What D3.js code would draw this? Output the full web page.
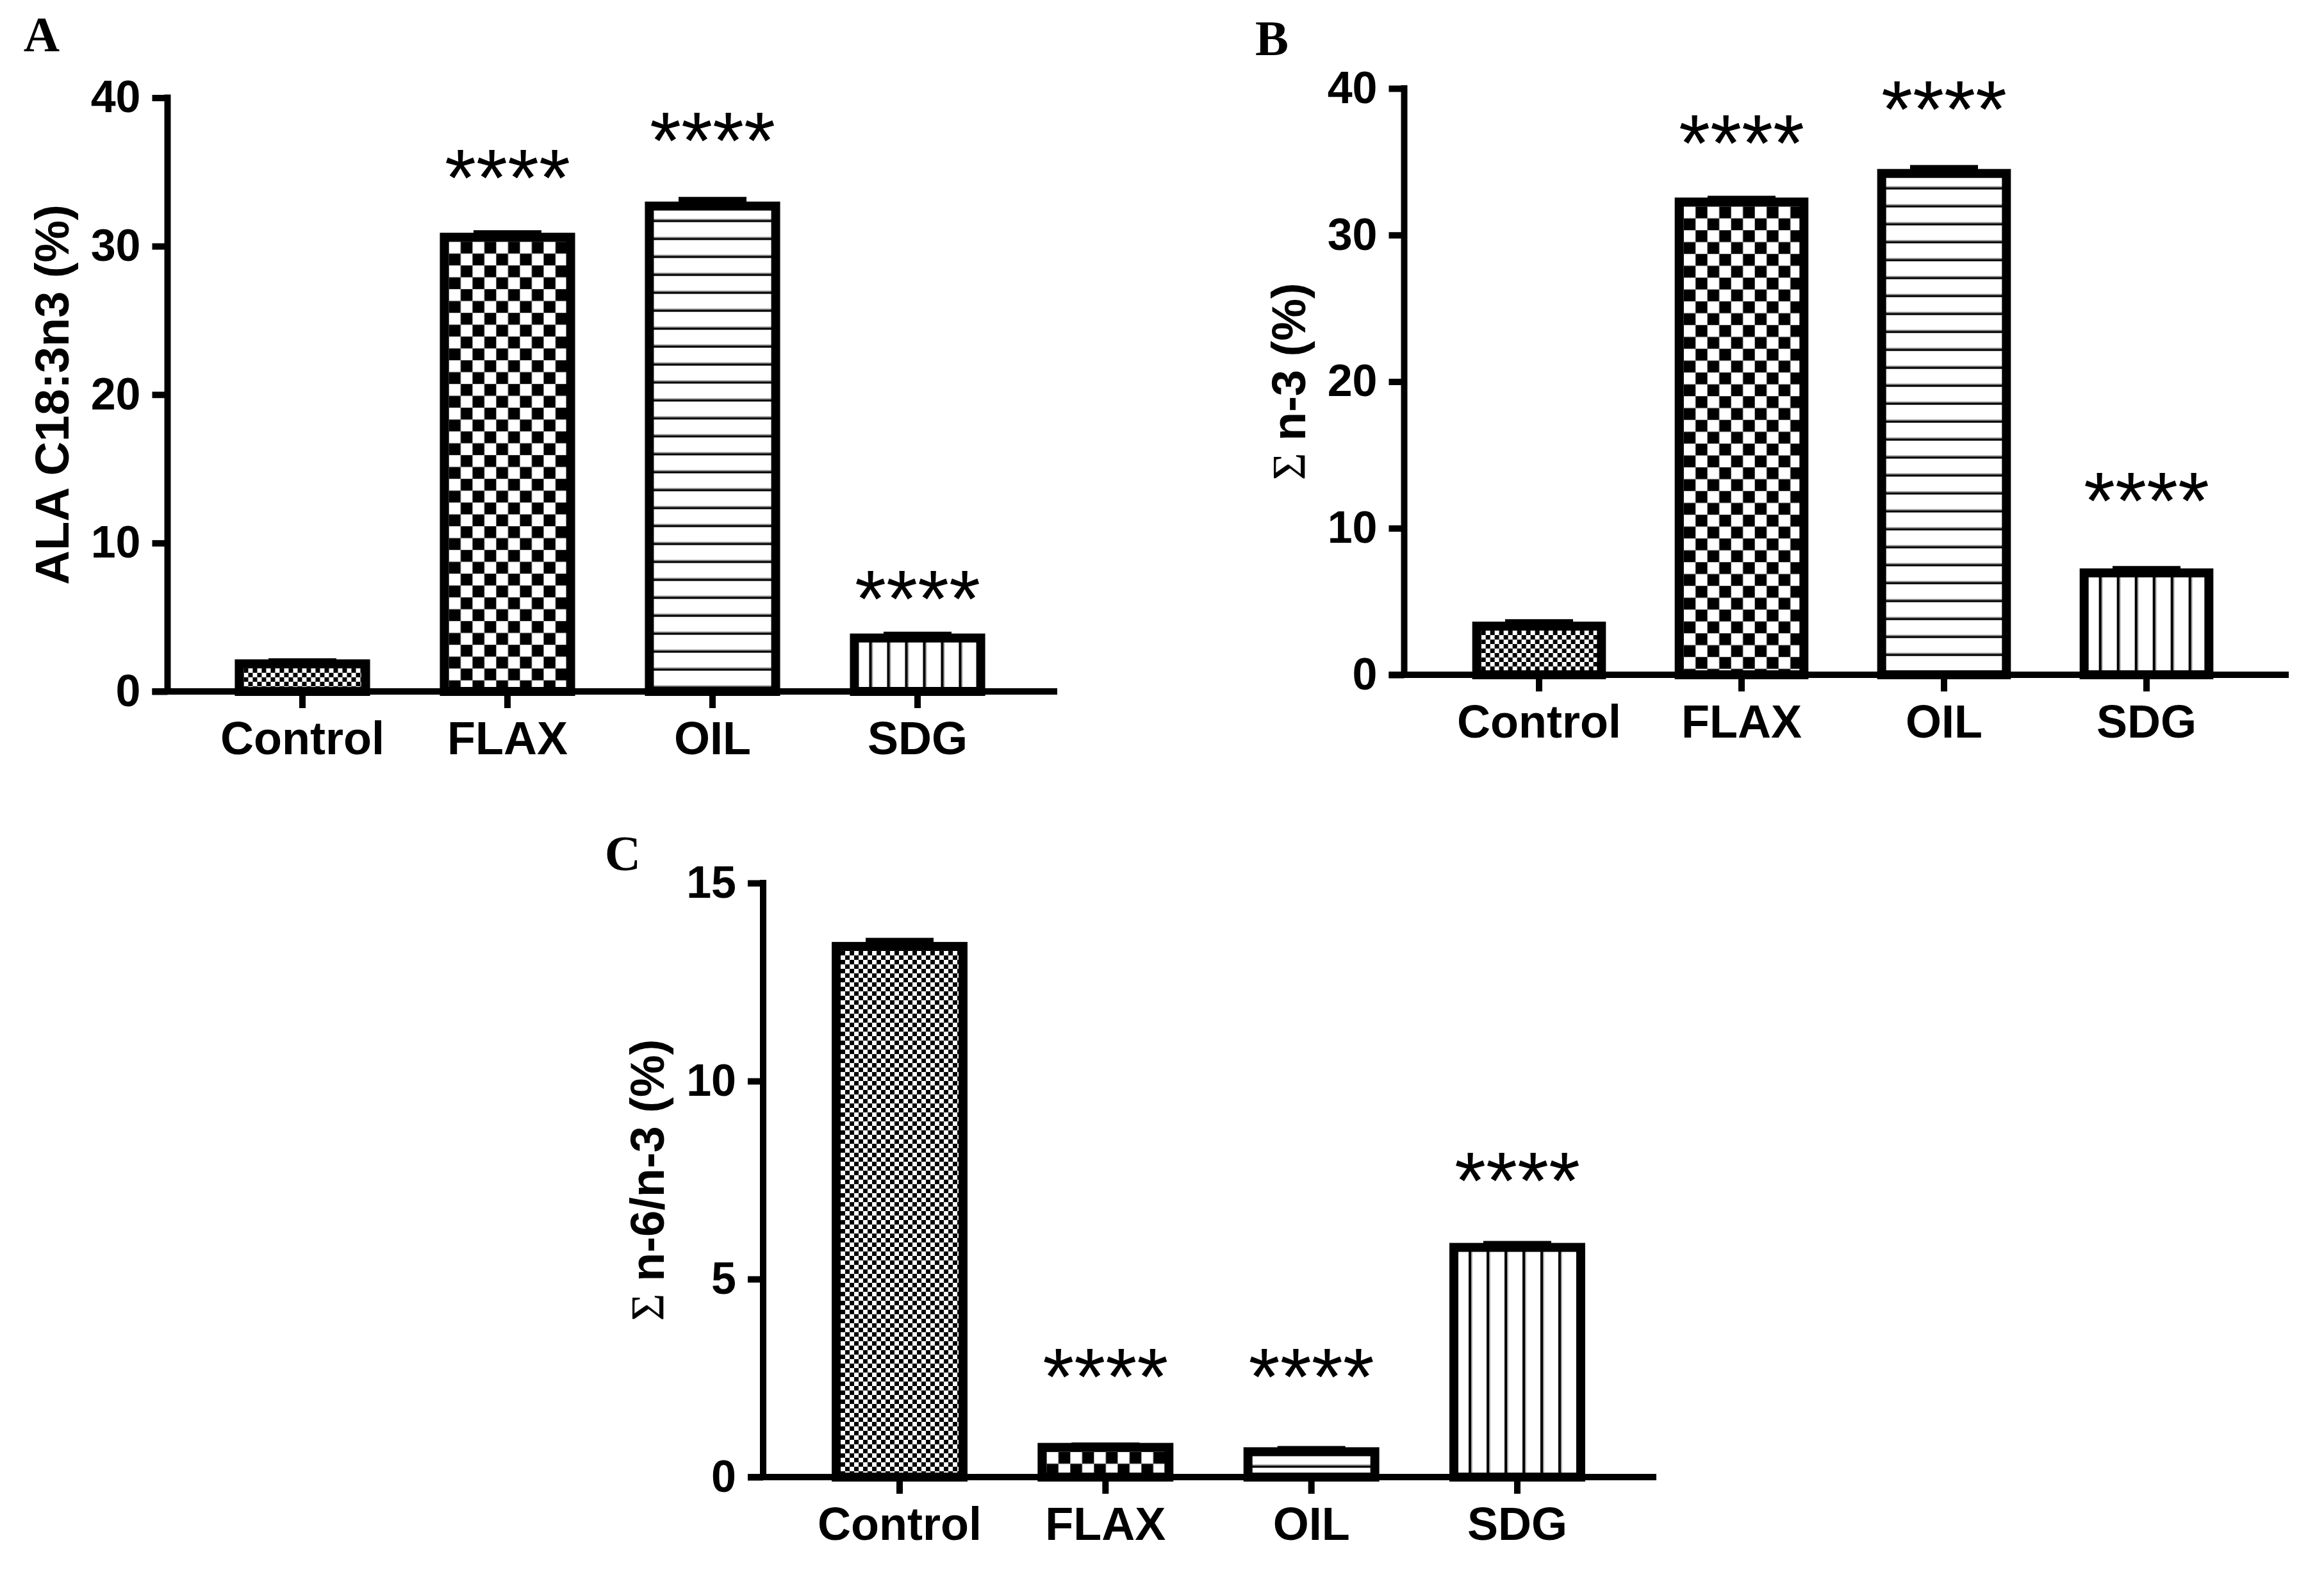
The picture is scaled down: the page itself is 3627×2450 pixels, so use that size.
<!DOCTYPE html>
<html>
<head>
<meta charset="utf-8">
<script src="https://cdn.jsdelivr.net/npm/d3@7"></script>
<style>
  body { margin: 0; background: #fff; }
  text { fill: #000; }
</style>
</head>
<body>
<div id="chart"></div>
<script>
// groups and fill patterns, same for the three panels
var groups = ["Control", "FLAX", "OIL", "SDG"];
var fills = ["fineCheck", "coarseCheck", "hLines", "vLines"];
var stars = ["", "****", "****", "****"];

// A: ALA C18:3n3
var alaMean = [1.86, 30.6, 32.7, 3.6];
var alaSem = [0.2, 0.3, 0.45, 0.25];
var alaStarAt = [null, 35.3, 37.8, 6.95];
var alaTicks = [0, 10, 20, 30, 40];

// B: sum n-3
var n3Mean = [3.32, 32.25, 34.2, 6.95];
var n3Sem = [0.3, 0.25, 0.4, 0.3];
var n3StarAt = [null, 37.0, 39.3, 12.6];
var n3Ticks = [0, 10, 20, 30, 40];

// C: sum n-6 / n-3
var ratioMean = [13.4, 0.75, 0.64, 5.8];
var ratioSem = [0.15, 0.06, 0.08, 0.1];
var ratioStarAt = [null, 2.8, 2.8, 7.75];
var ratioTicks = [0, 5, 10, 15];

var W = 3627, H = 2450;
var svg = d3.select("#chart").append("svg")
  .attr("width", W).attr("height", H)
  .style("background", "#fff");
var defs = svg.append("defs");

var sans = "'Liberation Sans', Arial, sans-serif";
var serif = "'Liberation Serif', 'Times New Roman', serif";

function makePattern(id, kind, px, py) {
  var pat = defs.append("pattern")
    .attr("id", id)
    .attr("patternUnits", "userSpaceOnUse")
    .attr("x", px).attr("y", py);
  if (kind == "fineCheck") {
    pat.attr("width", 14).attr("height", 14);
    pat.append("rect").attr("width", 14).attr("height", 14).attr("fill", "#fff");
    pat.append("rect").attr("width", 7).attr("height", 7).attr("fill", "#000");
    pat.append("rect").attr("x", 7).attr("y", 7).attr("width", 7).attr("height", 7).attr("fill", "#000");
  } else if (kind == "coarseCheck") {
    pat.attr("width", 37).attr("height", 37);
    pat.append("rect").attr("width", 37).attr("height", 37).attr("fill", "#fff");
    pat.append("rect").attr("x", 18.5).attr("width", 18.5).attr("height", 18.5).attr("fill", "#000");
    pat.append("rect").attr("y", 18.5).attr("width", 18.5).attr("height", 18.5).attr("fill", "#000");
  } else if (kind == "hLines") {
    pat.attr("width", 10).attr("height", 28);
    pat.append("rect").attr("width", 10).attr("height", 28).attr("fill", "#fff");
    pat.append("rect").attr("y", 13).attr("width", 10).attr("height", 2).attr("fill", "#888");
    pat.append("rect").attr("y", 15).attr("width", 10).attr("height", 3).attr("fill", "#000");
  } else {
    pat.attr("width", 28).attr("height", 10);
    pat.append("rect").attr("width", 28).attr("height", 10).attr("fill", "#fff");
    pat.append("rect").attr("x", 16).attr("width", 4).attr("height", 10).attr("fill", "#000");
    pat.append("rect").attr("x", 20).attr("width", 2).attr("height", 10).attr("fill", "#aaa");
  }
}

function drawPanel(p) {
  var g = svg.append("g");
  var step = (p.c3 - p.c0) / 3;

  var x = d3.scaleBand()
    .domain(groups)
    .range([p.c0 - step / 2, p.c3 + step / 2])
    .paddingInner(0.384)
    .paddingOuter(0.192);
  var y = d3.scaleLinear()
    .domain([0, p.ticks[p.ticks.length - 1]])
    .range([p.yBottom, p.yTop]);

  var bw = x.bandwidth();

  // bars
  groups.forEach(function(d, i) {
    var id = "pat-" + p.id + "-" + i;
    makePattern(id, fills[i], x(d) + 7, y(p.mean[i]) + 7);
    g.append("rect")
      .attr("x", x(d))
      .attr("y", y(p.mean[i]))
      .attr("width", bw)
      .attr("height", y(0) - y(p.mean[i]))
      .attr("fill", "url(#" + id + ")")
      .attr("stroke", "#000")
      .attr("stroke-width", 14);
  });

  // error bars (up only)
  var eb = g.append("g").attr("stroke", "#000").attr("stroke-width", 8);
  groups.forEach(function(d, i) {
    var cx = x(d) + bw / 2;
    var top = y(p.mean[i] + p.sem[i]);
    eb.append("line").attr("x1", cx).attr("x2", cx).attr("y1", y(p.mean[i])).attr("y2", top);
    eb.append("line").attr("x1", cx - 53).attr("x2", cx + 53).attr("y1", top).attr("y2", top);
  });

  // significance stars
  groups.forEach(function(d, i) {
    if (p.starAt[i] == null) return;
    g.append("text")
      .attr("x", x(d) + bw / 2)
      .attr("y", y(p.starAt[i]) + 60)
      .attr("text-anchor", "middle")
      .style("font-family", sans)
      .style("font-size", "126px")
      .text(stars[i]);
  });

  // y axis
  var ya = g.append("g")
    .attr("transform", "translate(" + p.x0 + ",0)")
    .call(d3.axisLeft(y).tickValues(p.ticks).tickSize(24).tickSizeOuter(0).tickPadding(18));
  ya.select(".domain").remove();
  ya.selectAll(".tick line").attr("stroke", "#000").attr("stroke-width", 10);
  ya.selectAll(".tick text")
    .style("font-family", sans)
    .style("font-size", "70px")
    .style("font-weight", "bold");
  g.append("line")
    .attr("x1", p.x0).attr("x2", p.x0)
    .attr("y1", p.yTop - 5).attr("y2", p.yBottom)
    .attr("stroke", "#000").attr("stroke-width", 10);

  // x axis
  var xa = g.append("g")
    .attr("transform", "translate(0," + p.yBottom + ")")
    .call(d3.axisBottom(x).tickSize(26).tickSizeOuter(0));
  xa.select(".domain").remove();
  xa.selectAll(".tick line").attr("stroke", "#000").attr("stroke-width", 10);
  xa.selectAll(".tick text")
    .attr("y", 98)
    .attr("dy", null)
    .style("font-family", sans)
    .style("font-size", "72px")
    .style("font-weight", "bold");
  g.append("line")
    .attr("x1", p.x0 - 24).attr("x2", p.xEnd)
    .attr("y1", p.yBottom).attr("y2", p.yBottom)
    .attr("stroke", "#000").attr("stroke-width", 10);

  // y title
  var t = g.append("text")
    .attr("transform", "translate(" + (p.x0 - 155) + "," + ((p.yTop + p.yBottom) / 2) + ") rotate(-90)")
    .attr("text-anchor", "middle")
    .style("font-family", sans)
    .style("font-size", "74px")
    .style("font-weight", "bold");
  if (p.sigma) {
    t.append("tspan").style("font-family", serif).style("font-weight", "normal").text("\u03A3 ");
  }
  t.append("tspan").text(p.title);

  // panel letter
  svg.append("text")
    .attr("x", p.letter[0]).attr("y", p.letter[1])
    .attr("text-anchor", "middle")
    .style("font-family", serif)
    .style("font-size", "78px")
    .style("font-weight", "bold")
    .text(p.id);
}

drawPanel({ id: "A", mean: alaMean, sem: alaSem, starAt: alaStarAt, ticks: alaTicks,
  title: "ALA C18:3n3 (%)", sigma: false,
  x0: 261.5, yTop: 152.5, yBottom: 1079, c0: 472, c3: 1432, xEnd: 1650, letter: [65, 80] });

drawPanel({ id: "B", mean: n3Mean, sem: n3Sem, starAt: n3StarAt, ticks: n3Ticks,
  title: "n-3 (%)", sigma: true,
  x0: 2191.5, yTop: 138, yBottom: 1053, c0: 2402, c3: 3350, xEnd: 3572, letter: [1985, 86] });

drawPanel({ id: "C", mean: ratioMean, sem: ratioSem, starAt: ratioStarAt, ticks: ratioTicks,
  title: "n-6/n-3 (%)", sigma: true,
  x0: 1191, yTop: 1378, yBottom: 2305, c0: 1404, c3: 2368, xEnd: 2585, letter: [972, 1358] });
</script>
</body>
</html>
